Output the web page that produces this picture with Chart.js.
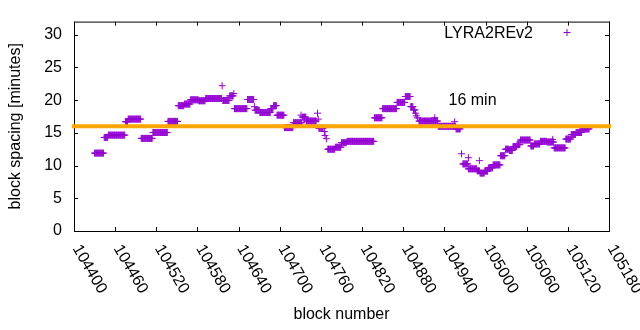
<!DOCTYPE html>
<html><head><meta charset="utf-8">
<script src="https://cdn.jsdelivr.net/npm/chart.js@4.4.1/dist/chart.umd.min.js"></script>
<style>html,body{margin:0;padding:0;background:#fff}</style>
</head><body>
<canvas id="c" width="640" height="330"></canvas>
<script>
// ---- data ----
const seriesName = 'LYRA2REv2';
// runs of blocks with (nearly) constant spacing: first block, last block, minutes
const runStart = [104430,104444,104450,104475,104479,104498,104515,104537,104552,104561,104570,104582,104592,104617,104627,104634,104653,104664,104671,104687,104691,104696,104707,104720,104733,104739,104757,104770,104781,104790,104798,104838,104850,104871,104883,104891,104895,104903,104931,104957,104967,104975,104988,104992,104999,105004,105011,105022,105029,105035,105040,105046,105051,105066,105071,105080,105090,105100,105117,105125,105132,105141];
const runEnd   = [104443,104449,104474,104478,104497,104514,104536,104551,104560,104569,104581,104591,104615,104626,104632,104652,104662,104670,104686,104690,104695,104706,104719,104732,104738,104753,104763,104780,104789,104797,104837,104849,104870,104882,104890,104894,104897,104930,104956,104963,104974,104987,104991,104998,105003,105010,105021,105028,105034,105039,105045,105050,105065,105070,105079,105089,105099,105116,105124,105131,105140,105151];
const runValue = [11.9,14.3,14.65,16.7,17.1,14.15,15.05,16.75,19.15,19.4,20.05,19.9,20.25,19.95,20.65,18.7,20.1,18.45,18.1,18.7,19.15,17.7,15.8,16.55,17.4,16.8,15.7,12.5,12.8,13.5,13.7,17.3,18.7,19.65,20.55,19.0,18.5,16.8,16.0,15.6,10.25,9.5,9.2,8.85,9.15,9.65,10.1,11.5,12.5,12.3,12.9,13.2,13.9,13.0,13.3,13.7,13.6,12.7,14.05,14.75,15.05,15.6];
// isolated points
const singleBlock = [104616,104633,104663,104731,104755,104756,104765,104766,104768,104898,104899,104901,104926,104955,104965,104975,104991,105098];
const singleValue = [22.2,21.0,19.0,17.7,18.0,17.1,15.2,14.6,14.1,18.0,17.6,17.3,17.3,16.7,11.8,11.2,10.75,14.0];

const refValue = 16;
const refLabel = '16 min';
const refLabelAt = [104946, 20];
const xTicks = [104400,104460,104520,104580,104640,104700,104760,104820,104880,104940,105000,105060,105120,105180];
const yTicks = [0,5,10,15,20,25,30];
const xTitle = 'block number';
const yTitle = 'block spacing [minutes]';

// ---- build the table the library needs ----
const points = [];
runStart.forEach((s, i) => { for (let b = s; b <= runEnd[i]; b++) points.push({x: b, y: runValue[i]}); });
singleBlock.forEach((b, i) => points.push({x: b, y: singleValue[i]}));

const FONT = 'Liberation Sans, Arial, sans-serif';
const FS = 16;
const PURPLE = '#9400d3';
const ORANGE = '#ffa500';

const frame = {
  id: 'frame',
  beforeDatasetsDraw(chart) {
    const {ctx, chartArea: a, scales: {x, y}} = chart;
    ctx.save();
    ctx.strokeStyle = '#000'; ctx.lineWidth = 1;
    ctx.strokeRect(a.left + 0.5, a.top + 0.5, a.right - a.left, a.bottom - a.top);
    ctx.beginPath();
    xTicks.forEach(v => {
      const px = Math.round(x.getPixelForValue(v)) + 0.5;
      ctx.moveTo(px, a.bottom); ctx.lineTo(px, a.bottom - 4);
      ctx.moveTo(px, a.top); ctx.lineTo(px, a.top + 4);
    });
    yTicks.forEach(v => {
      const py = Math.round(y.getPixelForValue(v)) + 0.5;
      ctx.moveTo(a.left, py); ctx.lineTo(a.left + 4, py);
      ctx.moveTo(a.right, py); ctx.lineTo(a.right - 4, py);
    });
    ctx.stroke();
    ctx.restore();
  },
  afterDraw(chart) {
    const {ctx, chartArea: a, scales: {x, y}} = chart;
    ctx.save();
    ctx.fillStyle = '#000';
    ctx.font = FS + 'px ' + FONT;
    // rotated x tick labels
    ctx.textAlign = 'left'; ctx.textBaseline = 'middle';
    xTicks.forEach(v => {
      const px = x.getPixelForValue(v);
      ctx.save();
      ctx.translate(px + 2, a.bottom + 15);
      ctx.rotate(Math.PI / 3);
      ctx.fillText(String(v), 0, 0);
      ctx.restore();
    });
    // reference label
    ctx.textBaseline = 'middle';
    ctx.fillText(refLabel, x.getPixelForValue(refLabelAt[0]), y.getPixelForValue(refLabelAt[1]));
    // legend
    ctx.textAlign = 'right'; ctx.textBaseline = 'alphabetic';
    ctx.fillText(seriesName, 533, 38);
    ctx.strokeStyle = PURPLE; ctx.lineWidth = 1;
    ctx.beginPath();
    ctx.moveTo(563.5, 32.5); ctx.lineTo(570.5, 32.5);
    ctx.moveTo(567, 29); ctx.lineTo(567, 36);
    ctx.stroke();
    ctx.restore();
  }
};

new Chart(document.getElementById('c'), {
  type: 'scatter',
  data: {
    datasets: [
      {
        label: '16 min line',
        type: 'line',
        data: [{x: xTicks[0], y: refValue}, {x: xTicks[xTicks.length - 1], y: refValue}],
        borderColor: ORANGE, borderWidth: 4, borderCapStyle: 'square',
        pointRadius: 0, clip: false, order: 0
      },
      {
        label: seriesName,
        data: points,
        pointStyle: 'cross', pointRadius: 3.5, pointHoverRadius: 3.5,
        borderColor: PURPLE, backgroundColor: PURPLE, borderWidth: 1,
        showLine: false, order: 1
      }
    ]
  },
  options: {
    responsive: false, animation: false, events: [],
    devicePixelRatio: 1,
    layout: {padding: {top: 19, right: 31, left: 0, bottom: 0}},
    plugins: {legend: {display: false}, tooltip: {enabled: false}},
    scales: {
      x: {
        type: 'linear', min: 104400, max: 105180,
        ticks: {display: false, stepSize: 60},
        grid: {display: false, drawTicks: false}, border: {display: false},
        title: {display: true, text: xTitle, color: '#000', font: {family: FONT, size: FS}, padding: {top: 0, bottom: 6}},
        afterFit(s) { s.height = 99; }
      },
      y: {
        min: 0, max: 32,
        ticks: {stepSize: 5, includeBounds: false, color: '#000', font: {family: FONT, size: FS}, padding: 12},
        grid: {display: false, drawTicks: false}, border: {display: false},
        title: {display: true, text: yTitle, color: '#000', font: {family: FONT, size: FS}, padding: {top: 6, bottom: 0}},
        afterFit(s) { s.width = 74; }
      }
    }
  },
  plugins: [frame]
});
</script>
</body></html>
